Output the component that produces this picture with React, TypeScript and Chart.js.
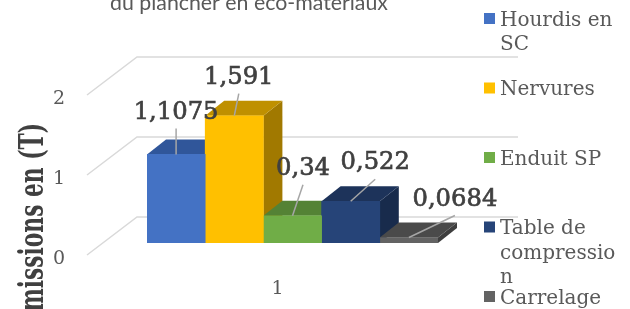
import { useEffect, useRef } from "react";
import { Chart, registerables } from "chart.js";

Chart.register(...registerables);

// ---- data ----
const categories = ["1"];
const seriesNames = ["Hourdis en SC", "Nervures", "Enduit SP", "Table de compression", "Carrelage"];
const seriesValues = [1.1075, 1.591, 0.34, 0.522, 0.0684];
const legendLines = [["Hourdis en", "SC"], ["Nervures"], ["Enduit SP"], ["Table de", "compressio", "n"], ["Carrelage"]];
const yTicks = [0, 1, 2];
const chartTitle = "du plancher en éco-matériaux";
const axisTitle = "Émissions en (T)";

// ---- styles ----
const frontColors = ["#4472C4", "#FFC000", "#70AD47", "#264478", "#636363"];
const topColors = ["#30569A", "#BF9000", "#548235", "#1D335A", "#4A4A4A"];
const sideColors = ["#2B4A7C", "#A17900", "#476D2D", "#182B4C", "#3E3E3E"];
const labelOffsets = [[0, -45], [4.5, -41], [10.5, -50], [24.5, -41], [46, -41]];

const fmt = (v: number) => String(v).replace(".", ",");

const SERIF = '"DejaVu Serif", serif';

const threeD = {
  id: "threeD",
  beforeDatasetsDraw(chart: any) {
    const ctx = chart.ctx;
    const ca = chart.chartArea;
    const ys = chart.scales.y;
    ctx.save();
    // perspective gridlines
    ctx.strokeStyle = "#D9D9D9";
    ctx.lineWidth = 1.5;
    for (const v of yTicks) {
      const p = ys.getPixelForValue(v);
      ctx.beginPath();
      ctx.moveTo(ca.left - 60, p + 12);
      ctx.lineTo(ca.left - 10, p - 26);
      ctx.lineTo(ca.right + 80, p - 26);
      ctx.stroke();
    }
    // side + top faces
    const dx = 19, dy = 15;
    chart.data.datasets.forEach((_: any, i: number) => {
      const el = chart.getDatasetMeta(i).data[0];
      if (!el) return;
      const { x, y, base, width } = el.getProps(["x", "y", "base", "width"], true);
      const l = x - width / 2, r = x + width / 2;
      ctx.fillStyle = sideColors[i];
      ctx.beginPath();
      ctx.moveTo(r, y);
      ctx.lineTo(r + dx, y - dy);
      ctx.lineTo(r + dx, base - dy);
      ctx.lineTo(r, base);
      ctx.closePath();
      ctx.fill();
      ctx.fillStyle = topColors[i];
      ctx.beginPath();
      ctx.moveTo(l, y);
      ctx.lineTo(l + dx, y - dy);
      ctx.lineTo(r + dx, y - dy);
      ctx.lineTo(r, y);
      ctx.closePath();
      ctx.fill();
    });
    ctx.restore();
  },
  afterDatasetsDraw(chart: any) {
    const ctx = chart.ctx;
    const ca = chart.chartArea;
    const ys = chart.scales.y;
    const xs = chart.scales.x;
    ctx.save();
    // value labels with leader lines
    chart.data.datasets.forEach((ds: any, i: number) => {
      const el = chart.getDatasetMeta(i).data[0];
      if (!el) return;
      const { x, y } = el.getProps(["x", "y"], true);
      const lx = x + labelOffsets[i][0];
      const ly = y + labelOffsets[i][1];
      ctx.strokeStyle = "#A6A6A6";
      ctx.lineWidth = 1.5;
      ctx.beginPath();
      ctx.moveTo(lx, ly + 19);
      ctx.lineTo(x, y);
      ctx.stroke();
      ctx.save();
      ctx.translate(lx, ly + 9.2);
      ctx.scale(0.97, 1);
      ctx.fillStyle = "#404040";
      ctx.strokeStyle = "#404040";
      ctx.lineWidth = 0.7;
      ctx.font = `25px ${SERIF}`;
      ctx.textAlign = "center";
      ctx.textBaseline = "alphabetic";
      const t = fmt(ds.data[0]);
      ctx.fillText(t, 0, 0);
      ctx.strokeText(t, 0, 0);
      ctx.restore();
    });
    // y tick labels
    ctx.fillStyle = "#595959";
    ctx.font = `19px ${SERIF}`;
    ctx.textAlign = "right";
    for (const v of yTicks) {
      const p = ys.getPixelForValue(v);
      ctx.fillText(String(v), ca.left - 82, p + 14 + 7);
    }
    // x tick label
    ctx.textAlign = "center";
    categories.forEach((c, i) => {
      ctx.fillText(c, xs.getPixelForValue(i) - 15, ca.bottom + 44 + 7);
    });
    // legend
    ctx.font = `20px ${SERIF}`;
    ctx.textAlign = "left";
    seriesNames.forEach((_, i) => {
      const cy = 18.5 + i * 69.5;
      ctx.fillStyle = frontColors[i];
      ctx.fillRect(484, cy - 5.5, 11, 11);
      ctx.fillStyle = "#595959";
      legendLines[i].forEach((line, j) => {
        ctx.fillText(line, 500, cy + 7.3 + j * 24.5);
      });
    });
    // chart title (partially visible)
    ctx.fillStyle = "#595959";
    ctx.font = `20px Lato, sans-serif`;
    const w = ctx.measureText(chartTitle).width;
    const size = (20 * 278) / w;
    ctx.font = `${size}px Lato, sans-serif`;
    ctx.textAlign = "center";
    ctx.fillText(chartTitle, 249, 10);
    // axis title (rotated)
    ctx.save();
    ctx.translate(43, 123);
    ctx.rotate(-Math.PI / 2);
    ctx.scale(0.64, 1);
    ctx.font = `bold 34px ${SERIF}`;
    ctx.fillStyle = "#404040";
    ctx.textAlign = "right";
    ctx.fillText(axisTitle, 0, 0);
    ctx.restore();
    ctx.restore();
  },
};

export default function App() {
  const ref = useRef<HTMLCanvasElement>(null);
  useEffect(() => {
    if (!ref.current) return;
    const chart = new Chart(ref.current, {
      type: "bar",
      data: {
        labels: categories,
        datasets: seriesNames.map((name, i) => ({
          label: name,
          data: [seriesValues[i]],
          backgroundColor: frontColors[i],
          borderWidth: 0,
          categoryPercentage: 1,
          barPercentage: 1,
        })),
      },
      options: {
        animation: false,
        responsive: true,
        maintainAspectRatio: false,
        layout: { padding: { top: 83, bottom: 66, left: 147, right: 192 } },
        scales: {
          x: { display: false },
          y: { display: false, min: 0, max: 2 },
        },
        plugins: { legend: { display: false }, tooltip: { enabled: false } },
      },
      plugins: [threeD],
    });
    return () => chart.destroy();
  }, []);
  return (
    <div style={{ position: "fixed", left: 0, top: 0, width: 630, height: 309, background: "#fff" }}>
      <canvas ref={ref} />
    </div>
  );
}
